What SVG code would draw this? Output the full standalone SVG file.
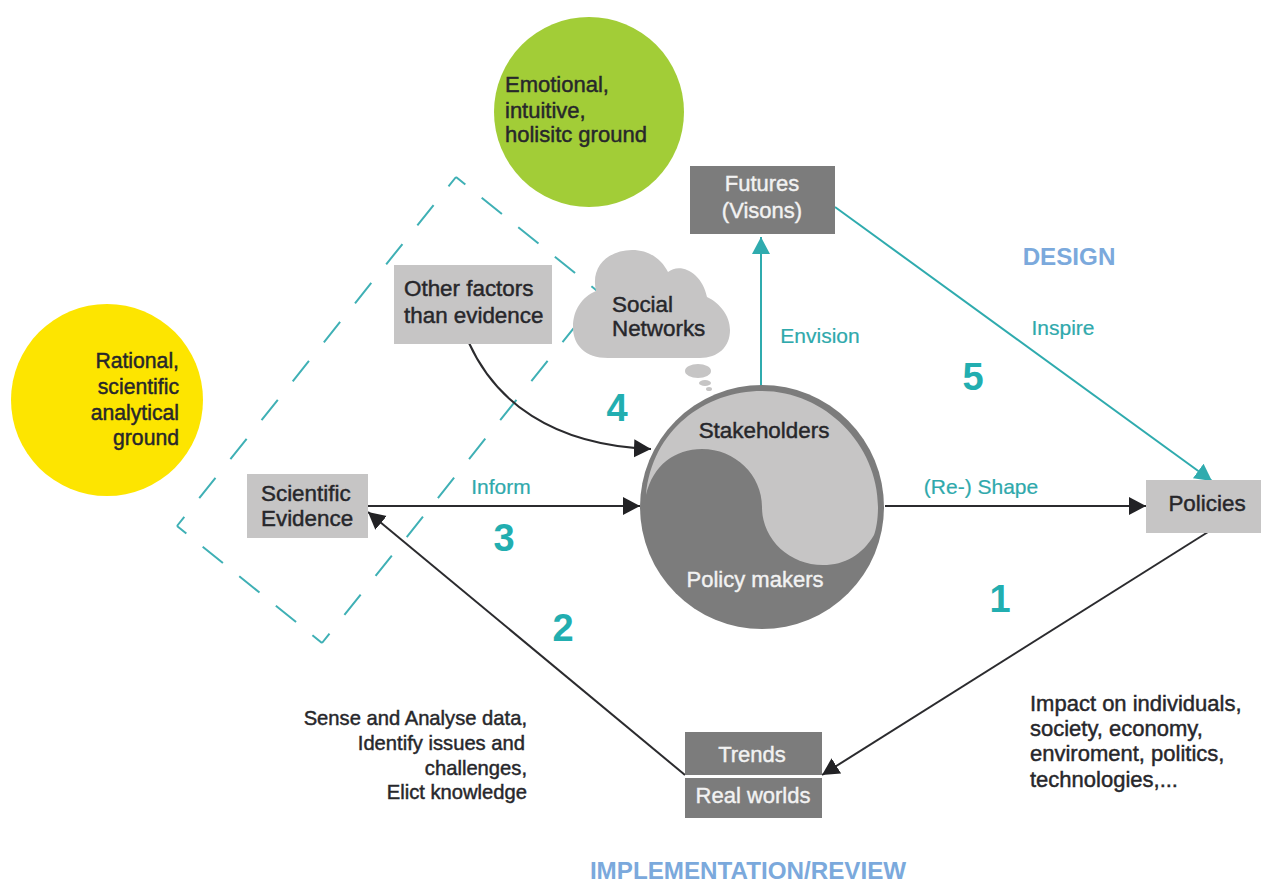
<svg xmlns="http://www.w3.org/2000/svg" width="1261" height="884" viewBox="0 0 1261 884">
<defs>
<style>
text{font-family:"Liberation Sans",Arial,sans-serif;font-size:22.4px}
.d{fill:#27272b;stroke:#27272b;stroke-width:.45}
.m{font-size:21.2px}
.s{font-size:20.2px}
.l{font-size:22px}
.w{fill:#f2f2f2;stroke:#f2f2f2;stroke-width:.4;font-size:22px}
.t{fill:#2fa9ac;stroke:#2fa9ac;stroke-width:.2;font-size:21px}
.n{fill:#22aeb0;font-size:38px;font-weight:bold}
.b{fill:#7ba9dc;font-size:24.2px;font-weight:bold}
.g{fill:#c6c5c5}
.k{fill:#7c7c7c}
.c1{fill:none;stroke:#2b2b2e;stroke-width:2}
.c2{fill:none;stroke:#2fabae;stroke-width:2}
.dash{fill:none;stroke:#3fb0b5;stroke-width:2}
</style>
<marker id="ab" markerUnits="userSpaceOnUse" markerWidth="20" markerHeight="20" refX="17" refY="9" orient="auto"><path d="M0 0L17 9L0 18z" fill="#222225"/></marker>
<marker id="at" markerUnits="userSpaceOnUse" markerWidth="20" markerHeight="20" refX="17" refY="9" orient="auto"><path d="M0 0L17 9L0 18z" fill="#2fabae"/></marker>
</defs>
<rect width="1261" height="884" fill="#fff"/>
<g id="dashed-frame">
<path class="dash" stroke-dasharray="26 23.9" stroke-dashoffset="14" d="M456 177L177 526"/>
<path class="dash" stroke-dasharray="26 21" stroke-dashoffset="14" d="M177 526L322 643"/>
<path class="dash" stroke-dasharray="26 23.9" stroke-dashoffset="14" d="M322 643L601 294"/>
<path class="dash" stroke-dasharray="26 21" stroke-dashoffset="14" d="M456 177L601 294"/>
</g>
<g id="rational"><circle cx="107" cy="400" r="96" fill="#fde500"/>
<text class="d m" text-anchor="end"><tspan x="179" y="368">Rational,</tspan><tspan x="179" y="394">scientific</tspan><tspan x="179" y="420">analytical</tspan><tspan x="179" y="445">ground</tspan></text></g>
<g id="emotional"><circle cx="589" cy="112" r="95" fill="#a2cd37"/>
<text class="d l"><tspan x="505" y="92">Emotional,</tspan><tspan x="505" y="118">intuitive,</tspan><tspan x="505" y="142">holisitc ground</tspan></text></g>
<g id="connectors">
<path class="c1" marker-end="url(#ab)" d="M367 506L640 506"/>
<path class="c1" marker-end="url(#ab)" d="M885 506L1146 506"/>
<path class="c1" marker-end="url(#ab)" d="M469 343C495 400 550 445 651 449"/>
<path class="c1" marker-end="url(#ab)" d="M1208 532L822 775"/>
<path class="c1" marker-end="url(#ab)" d="M685 775L368 512"/>
<path class="c2" marker-end="url(#at)" d="M761 386L761 237"/>
<path class="c2" marker-end="url(#at)" d="M835 207L1212 481"/>
</g>
<g id="futures"><rect class="k" x="690" y="166" width="145" height="68"/>
<text class="w" text-anchor="middle"><tspan x="762" y="191">Futures</tspan><tspan x="762" y="218">(Visons)</tspan></text></g>
<g id="other-factors"><rect class="g" x="394" y="265" width="158" height="79"/>
<text class="d"><tspan x="404" y="296">Other factors</tspan><tspan x="404" y="323">than evidence</tspan></text></g>
<g id="social-networks">
<path class="g" d="M608 358C585 358 573 345 573 327C573 310 582 297 596 291C590 265 610 250 632 250C650 250 662 260 668 272C680 262 702 272 707 297C720 303 730 316 730 330C730 347 718 358 700 358z"/>
<ellipse class="g" cx="698" cy="371" rx="13" ry="7"/><ellipse class="g" cx="705" cy="383" rx="6" ry="3"/><ellipse class="g" cx="709" cy="389" rx="3" ry="2"/>
<text class="d"><tspan x="612" y="312">Social</tspan><tspan x="612" y="336">Networks</tspan></text></g>
<g id="evidence"><rect class="g" x="247" y="474" width="121" height="64"/>
<text class="d"><tspan x="261" y="501">Scientific</tspan><tspan x="261" y="526">Evidence</tspan></text></g>
<g id="stakeholders-policy">
<circle class="k" cx="762" cy="507" r="122"/>
<path class="g" d="M646 495C652 430 705 391 762 391C825 391 878 445 878 507C878 520 876 530 874 535C862 555 845 565 823 565C790 565 762 540 762 507C762 475 735 449 702 449C675 449 653 465 646 495z"/>
<text class="d" x="764" y="438" text-anchor="middle">Stakeholders</text>
<text class="w" x="755" y="587" text-anchor="middle">Policy makers</text></g>
<g id="policies"><rect class="g" x="1146" y="480" width="115" height="53"/>
<text class="d" x="1207" y="511" text-anchor="middle">Policies</text></g>
<g id="trends"><rect class="k" x="685" y="732" width="137" height="43"/><rect class="k" x="685" y="778" width="137" height="40"/>
<text class="w" x="752" y="762" text-anchor="middle">Trends</text><text class="w" x="753" y="803" text-anchor="middle">Real worlds</text></g>
<g id="labels">
<text class="t" x="501" y="494" text-anchor="middle">Inform</text>
<text class="t" x="981" y="494" text-anchor="middle">(Re-) Shape</text>
<text class="t" x="820" y="343" text-anchor="middle">Envision</text>
<text class="t" x="1063" y="335" text-anchor="middle">Inspire</text>
<text class="n" x="504" y="551" text-anchor="middle">3</text>
<text class="n" x="563" y="641" text-anchor="middle">2</text>
<text class="n" x="1000" y="612" text-anchor="middle">1</text>
<text class="n" x="617" y="421" text-anchor="middle">4</text>
<text class="n" x="973" y="390" text-anchor="middle">5</text>
<text class="b" x="1069" y="265" text-anchor="middle">DESIGN</text>
<text class="b" x="748" y="878.5" text-anchor="middle">IMPLEMENTATION/REVIEW</text>
<text class="d s" text-anchor="end"><tspan x="527" y="725">Sense and Analyse data,</tspan><tspan x="525" y="750">Identify issues and</tspan><tspan x="527" y="775">challenges,</tspan><tspan x="527" y="799">Elict knowledge</tspan></text>
<text class="d l"><tspan x="1030" y="711">Impact on individuals,</tspan><tspan x="1030" y="736">society, economy,</tspan><tspan x="1030" y="761">enviroment, politics,</tspan><tspan x="1030" y="787">technologies,...</tspan></text>
</g>
</svg>
